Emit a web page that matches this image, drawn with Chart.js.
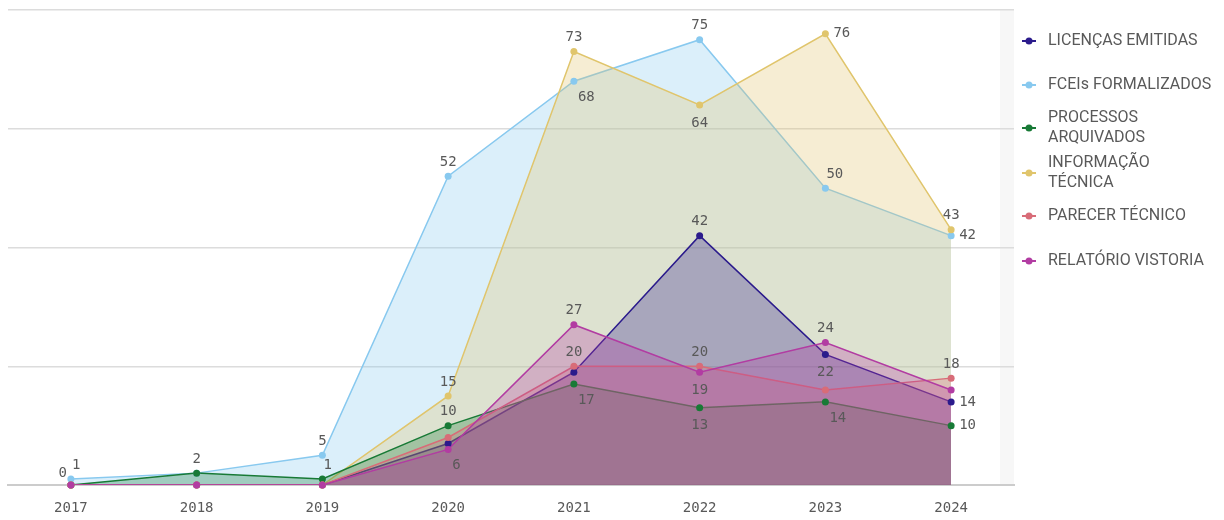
<!DOCTYPE html>
<html>
<head>
<meta charset="utf-8">
<script src="https://cdn.jsdelivr.net/npm/chart.js@4"></script>
<style>
  html, body { margin: 0; padding: 0; background: #fff; }
  #wrap { width: 1224px; height: 520px; }
</style>
</head>
<body>
<div id="wrap"><canvas id="area-chart" width="1224" height="520"></canvas></div>
<script>
// categories
var anos = ['2017', '2018', '2019', '2020', '2021', '2022', '2023', '2024'];

// series values
var licencasEmitidas     = [0, 0, 0, 7, 19, 42, 22, 14];
var fceisFormalizados    = [1, 2, 5, 52, 68, 75, 50, 42];
var processosArquivados  = [0, 2, 1, 10, 17, 13, 14, 10];
var informacaoTecnica    = [0, 0, 0, 15, 73, 64, 76, 43];
var parecerTecnico       = [0, 0, 0, 8, 20, 20, 16, 18];
var relatorioVistoria    = [0, 0, 0, 6, 27, 19, 24, 16];

// y gridline values
var yTicks = [0, 20, 40, 60, 80];

// where each value label goes ('' = not shown)
var posLicencas   = ['tl', '', '', '', '', 't', 'b', 'r'];
var posFceis      = ['tr', '', 't', 't', 'br', 't', 'tr', 'r'];
var posProcessos  = ['', 't', 'tr', 't', 'br', 'b', 'br', 'r'];
var posInformacao = ['', '', '', 't', 't', 'b', 'r', 't'];
var posParecer    = ['', '', '', '', 't', 't', '', 't'];
var posRelatorio  = ['', '', '', 'br', 't', 'b', 't', ''];

function hexA(hex, a) {
  var n = parseInt(hex.slice(1), 16);
  return 'rgba(' + (n >> 16 & 255) + ',' + (n >> 8 & 255) + ',' + (n & 255) + ',' + a + ')';
}

// layer: higher = drawn further back
function serie(label, data, color, pos, layer) {
  return {
    label: label,
    data: data,
    order: layer,
    borderColor: color,
    backgroundColor: color,
    fill: { target: 'origin', above: hexA(color, 0.3) },
    borderWidth: 1.5,
    pointRadius: 0,
    pointHoverRadius: 0,
    tension: 0,
    labelPos: pos
  };
}

// dots sit on top of every area
var dots = {
  id: 'dots',
  afterDatasetsDraw: function(chart) {
    var ctx = chart.ctx;
    ctx.save();
    chart.data.datasets.forEach(function(ds, i) {
      ctx.fillStyle = ds.borderColor;
      chart.getDatasetMeta(i).data.forEach(function(pt) {
        ctx.beginPath();
        ctx.arc(pt.x, pt.y, 3.5, 0, Math.PI * 2);
        ctx.fill();
      });
    });
    ctx.restore();
  }
};

var valueLabels = {
  id: 'valueLabels',
  afterDatasetsDraw: function(chart) {
    var ctx = chart.ctx;
    ctx.save();
    ctx.font = '14px "DejaVu Sans Mono", monospace';
    ctx.fillStyle = '#595959';
    chart.data.datasets.forEach(function(ds, i) {
      var meta = chart.getDatasetMeta(i);
      meta.data.forEach(function(pt, j) {
        var p = ds.labelPos[j];
        if (!p) return;
        var x = pt.x, y = pt.y, txt = String(ds.data[j]);
        ctx.textBaseline = 'middle';
        ctx.textAlign = 'center';
        if (p === 't') { y -= 14; }
        else if (p === 'b') { y += 18; }
        else if (p === 'r') { ctx.textAlign = 'left'; x += 8; }
        else if (p === 'tr') { ctx.textAlign = 'left'; x += 1; y -= 14; }
        else if (p === 'br') { ctx.textAlign = 'left'; x += 4; y += 16; }
        else if (p === 'tl') { ctx.textAlign = 'right'; x -= 4; y -= 12; }
        ctx.fillText(txt, x, y);
      });
    });
    ctx.restore();
  }
};

var sideBand = {
  id: 'sideBand',
  beforeDraw: function(chart) {
    var a = chart.chartArea, ctx = chart.ctx;
    ctx.save();
    ctx.fillStyle = '#f7f7f7';
    ctx.fillRect(a.right - 14, a.top, 14, a.bottom - a.top);
    ctx.restore();
  }
};

var sideLegend = {
  id: 'sideLegend',
  afterDraw: function(chart) {
    var ctx = chart.ctx;
    var x0 = chart.chartArea.right + 8;
    var centers = [41, 85, 128, 173, 216, 261];
    ctx.save();
    ctx.font = '16px Roboto, sans-serif';
    ctx.textBaseline = 'middle';
    ctx.textAlign = 'left';
    chart.data.datasets.forEach(function(ds, i) {
      var cy = centers[i];
      ctx.strokeStyle = ds.borderColor;
      ctx.fillStyle = ds.borderColor;
      ctx.lineWidth = 2;
      ctx.beginPath();
      ctx.moveTo(x0, cy);
      ctx.lineTo(x0 + 14, cy);
      ctx.stroke();
      ctx.beginPath();
      ctx.arc(x0 + 7, cy, 3.5, 0, Math.PI * 2);
      ctx.fill();
      // wrap long names
      var words = ds.label.split(' '), lines = [], cur = '';
      words.forEach(function(w) {
        var t = cur ? cur + ' ' + w : w;
        if (ctx.measureText(t).width > 167 && cur) { lines.push(cur); cur = w; }
        else cur = t;
      });
      lines.push(cur);
      ctx.fillStyle = '#595959';
      var y = cy - (lines.length - 1) * 10;
      lines.forEach(function(l) { ctx.fillText(l, x0 + 26, y); y += 20; });
    });
    ctx.restore();
  }
};

new Chart(document.getElementById('area-chart'), {
  type: 'line',
  data: {
    labels: anos,
    datasets: [
      serie('LICENÇAS EMITIDAS', licencasEmitidas, '#2b1b8c', posLicencas, 3),
      serie('FCEIs FORMALIZADOS', fceisFormalizados, '#88c9ef', posFceis, 5),
      serie('PROCESSOS ARQUIVADOS', processosArquivados, '#187a36', posProcessos, 2),
      serie('INFORMAÇÃO TÉCNICA', informacaoTecnica, '#e0c56c', posInformacao, 4),
      serie('PARECER TÉCNICO', parecerTecnico, '#d86c78', posParecer, 1),
      serie('RELATÓRIO VISTORIA', relatorioVistoria, '#b23ca2', posRelatorio, 0)
    ]
  },
  options: {
    responsive: false,
    animation: false,
    layout: { padding: { left: 8, right: 210, top: 10, bottom: 0 } },
    plugins: {
      legend: { display: false },
      tooltip: { enabled: false }
    },
    scales: {
      x: {
        offset: true,
        grid: { display: false, drawTicks: false },
        border: { color: '#cccccc', width: 2 },
        afterFit: function(scale) { scale.height = 35; },
        ticks: {
          padding: 15,
          color: '#595959',
          font: { family: '"DejaVu Sans Mono", monospace', size: 14 }
        }
      },
      y: {
        min: yTicks[0],
        max: yTicks[yTicks.length - 1],
        afterBuildTicks: function(axis) {
          axis.ticks = yTicks.map(function(v) { return { value: v }; });
        },
        ticks: { display: false },
        border: { display: false },
        grid: { color: '#dcdcdc', lineWidth: 1.5, drawTicks: false }
      }
    }
  },
  plugins: [sideBand, dots, valueLabels, sideLegend]
});
</script>
</body>
</html>
